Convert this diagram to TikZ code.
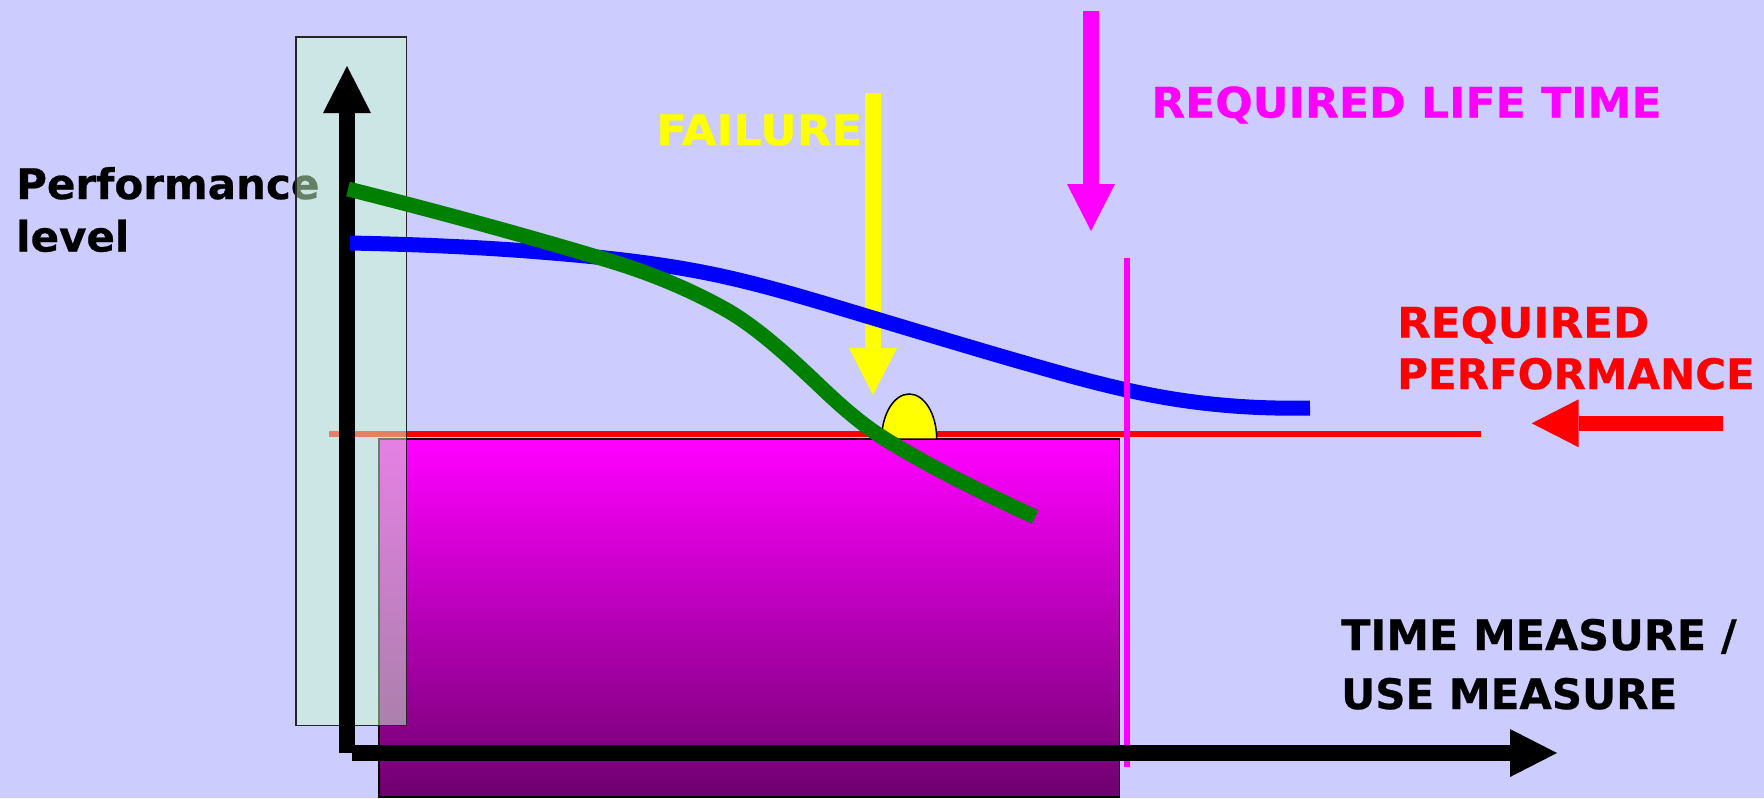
\documentclass[tikz,border=0pt]{standalone}
\usepackage{fontspec}
\setmainfont{DejaVu Sans}[BoldFeatures={FakeBold=0.6}]
\usetikzlibrary{arrows.meta}
\definecolor{bg}{HTML}{CCCCFF}
\definecolor{mag}{HTML}{FF00FF}
\definecolor{dkmag}{HTML}{6E006E}
\definecolor{ylw}{HTML}{FFFF00}
\definecolor{rd}{HTML}{FF0000}
\definecolor{grn}{HTML}{008000}
\definecolor{blu}{HTML}{0000FF}
\definecolor{pale}{HTML}{CCFFCC}
\newcommand{\stretchtxt}[2]{{\addfontfeature{FakeStretch=#1}#2}}
\begin{document}
\begin{tikzpicture}[x=1pt,y=-1pt,
  lbl/.style={inner sep=0pt,anchor=base west,font=\fontsize{42}{50}\selectfont\bfseries},
  bigarrow/.style={-{Triangle[length=47pt 0 0,width=48pt 0 0,line width=0pt]}, line cap=butt},
  curve/.style={line width=15pt, line cap=butt, line join=round}]
\fill[bg] (0,0) rectangle (1764,798);
\useasboundingbox (0,0) rectangle (1764,798);
% use period box
\shade[top color=mag, bottom color=dkmag] (379,439) rectangle (1119.3,797);
\draw[black, line width=1.5pt] (379,439) rectangle (1119.3,797);
% required performance line
\coordinate (rl1) at (329,434);
\coordinate (rl2) at (1481,434);
\draw[rd, line width=6pt] (rl1) -- (rl2);
% texts
\node[lbl] (perf1) at (16,199) {Performance};
\node[lbl] (perf2) at (16,251.5) {level};
\node[lbl, text=ylw] (fail) at (656,145) {\stretchtxt{1.07}{FAILURE}};
\node[lbl, text=mag] (life) at (1151,117.5) {\stretchtxt{1.05}{REQUIRED LIFE TIME}};
\node[lbl, text=rd] (req1) at (1397,337.5) {\stretchtxt{1.04}{REQUIRED}};
\node[lbl, text=rd] (req2) at (1397,389) {PERFORMANCE};
\node[lbl] (time1) at (1341,650) {\stretchtxt{1.02}{TIME MEASURE /}};
\node[lbl] (time2) at (1341,709) {USE MEASURE};
% failure dome
\draw[fill=ylw, line width=1.5pt] (881.7,439) arc[start angle=180, end angle=0, x radius=27.5pt, y radius=45pt] -- cycle;
% translucent band
\draw[black!85, line width=1.3pt, fill=pale, fill opacity=0.5] (296,37) rectangle (406.5,725.5);
% arrows
\coordinate (fa1) at (873,93);
\coordinate (fa2) at (873,395);
\draw[bigarrow, ylw, line width=15.7pt] (fa1) -- (fa2);
\coordinate (la1) at (1091,11);
\coordinate (la2) at (1091,231);
\draw[bigarrow, mag, line width=15.7pt] (la1) -- (la2);
\coordinate (ra1) at (1722.7,423.3);
\coordinate (ra2) at (1531.7,423.3);
\draw[bigarrow, rd, line width=15.3pt] (ra1) -- (ra2);
% vertical axis
\coordinate (o) at (347,753);
\coordinate (ytip) at (347,66);
\draw[bigarrow, black, line width=16pt] (o) -- (ytip);
% curves
\draw[curve, blu] (350,243) .. controls (413.3,244.3) and (476.7,246.9) .. (540,252)
  .. controls (595.7,256.5) and (651.3,261.9) .. (707,273)
  .. controls (762.3,284.1) and (817.7,301.4) .. (873,318)
  .. controls (935.3,336.7) and (997.7,355.6) .. (1060,373)
  .. controls (1100,384.2) and (1140,394) .. (1180,400)
  .. controls (1223.3,406.5) and (1266.7,408.9) .. (1310,408);
\draw[curve, grn] (348,189) .. controls (434.3,210.6) and (520.7,234.1) .. (607,260)
  .. controls (645.7,271.6) and (684.3,286.7) .. (723,308)
  .. controls (756.3,326.3) and (789.7,357.3) .. (823,389)
  .. controls (843.7,408.7) and (864.3,426.2) .. (885,439)
  .. controls (935,470) and (985,493.5) .. (1035,517);
% required life time line
\coordinate (lt1) at (1127,258);
\coordinate (lt2) at (1127,766.7);
\draw[mag, line width=6pt] (lt1) -- (lt2);
% horizontal axis
\coordinate (xo) at (352,753);
\coordinate (xtip) at (1557,753);
\draw[bigarrow, black, line width=15.5pt] (xo) -- (xtip);
\end{tikzpicture}
\end{document}
